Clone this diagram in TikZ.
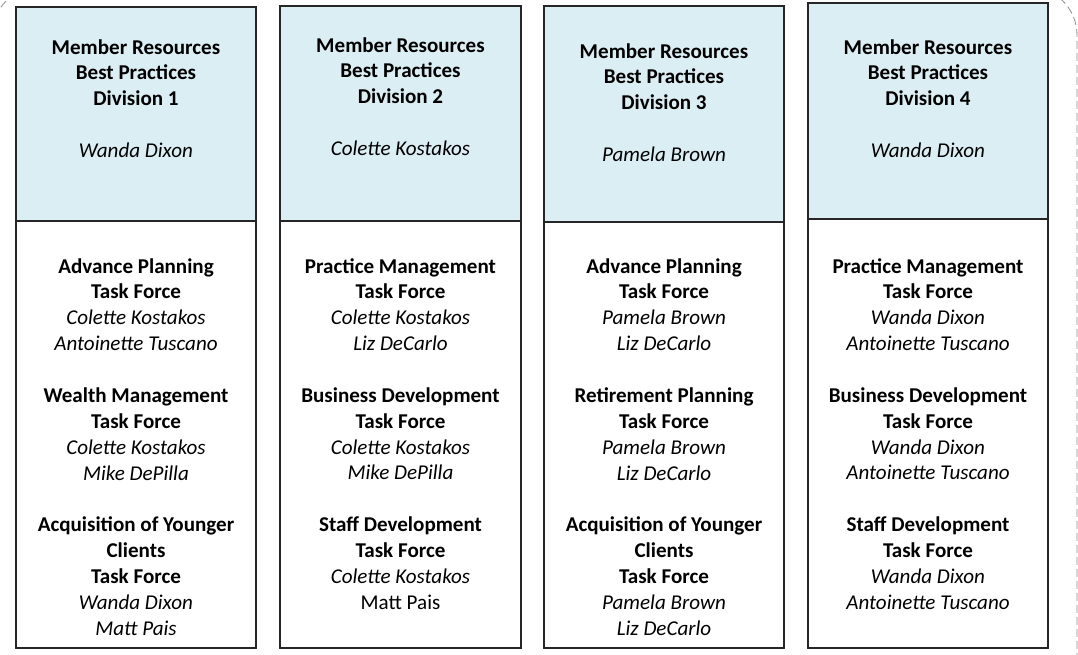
\documentclass[tikz,border=0pt]{standalone}
\usepackage{fontspec}
\setmainfont{Carlito}
\definecolor{divblue}{HTML}{DBEEF4}
\newcommand\persn[1]{{\normalfont\itshape #1}}
\newcommand\persu[1]{{\normalfont #1}}
\begin{document}
\begin{tikzpicture}[x=0.75pt,y=-0.75pt,
  box/.style={draw=black!85, line width=1pt},
  headbox/.style={box, fill=divblue},
  txt/.style={align=center, font=\fontsize{15.8pt}{19.4pt}\selectfont\bfseries, anchor=base, inner sep=0pt},
  frame/.style={draw=black!45, line width=0.6pt, dash pattern=on 6pt off 3pt, rounded corners=36pt}
]
\useasboundingbox (0,0) rectangle (1078,654);
\draw[frame] (-8,-13) rectangle (1077,720);

% column 1
\draw[headbox] (16,7) rectangle (256,221);
\draw[box] (16,221) rectangle (256,648);
% column 2
\draw[headbox] (280,6) rectangle (521,221);
\draw[box] (280,221) rectangle (521,648);
% column 3
\draw[headbox] (544,6) rectangle (784,222);
\draw[box] (544,222) rectangle (784,648);
% column 4
\draw[headbox] (808,3) rectangle (1048,219);
\draw[box] (808,219) rectangle (1048,648);

% anchor=base of a multi-line node is the baseline of its last line
\node[txt] (h1) at (136,157.5) {Member Resources\\Best Practices\\Division 1\\[19.4pt]\persn{Wanda Dixon}};
\node[txt] (h2) at (400.5,155.5) {Member Resources\\Best Practices\\Division 2\\[19.4pt]\persn{Colette Kostakos}};
\node[txt] (h3) at (664,161.5) {Member Resources\\Best Practices\\Division 3\\[19.4pt]\persn{Pamela Brown}};
\node[txt] (h4) at (928,157.5) {Member Resources\\Best Practices\\Division 4\\[19.4pt]\persn{Wanda Dixon}};

\node[txt] (b1) at (136,635.2) {Advance Planning\\Task Force\\\persn{Colette Kostakos}\\\persn{Antoinette Tuscano}\\[19.4pt]
Wealth Management\\Task Force\\\persn{Colette Kostakos}\\\persn{Mike DePilla}\\[19.4pt]
Acquisition of Younger\\Clients\\Task Force\\\persn{Wanda Dixon}\\\persn{Matt Pais}};
\node[txt] (b2) at (400.5,609.3) {Practice Management\\Task Force\\\persn{Colette Kostakos}\\\persn{Liz DeCarlo}\\[19.4pt]
Business Development\\Task Force\\\persn{Colette Kostakos}\\\persn{Mike DePilla}\\[19.4pt]
Staff Development\\Task Force\\\persn{Colette Kostakos}\\\persu{Matt Pais}};
\node[txt] (b3) at (664,635.2) {Advance Planning\\Task Force\\\persn{Pamela Brown}\\\persn{Liz DeCarlo}\\[19.4pt]
Retirement Planning\\Task Force\\\persn{Pamela Brown}\\\persn{Liz DeCarlo}\\[19.4pt]
Acquisition of Younger\\Clients\\Task Force\\\persn{Pamela Brown}\\\persn{Liz DeCarlo}};
\node[txt] (b4) at (928,609.3) {Practice Management\\Task Force\\\persn{Wanda Dixon}\\\persn{Antoinette Tuscano}\\[19.4pt]
Business Development\\Task Force\\\persn{Wanda Dixon}\\\persn{Antoinette Tuscano}\\[19.4pt]
Staff Development\\Task Force\\\persn{Wanda Dixon}\\\persn{Antoinette Tuscano}};
\end{tikzpicture}
\end{document}
